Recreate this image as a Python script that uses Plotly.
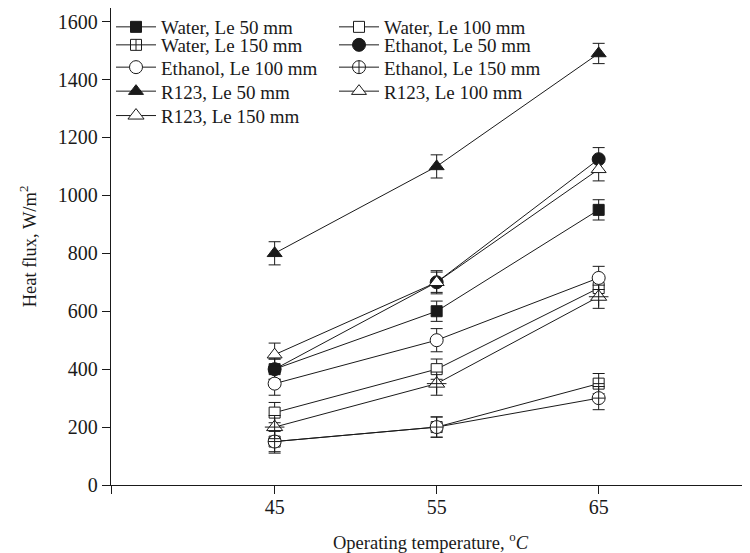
import plotly.graph_objects as go

temps = [45, 55, 65]

names = ["Water, Le 50 mm", "Water, Le 100 mm", "Water, Le 150 mm", "Ethanot, Le 50 mm",
         "Ethanol, Le 100 mm", "Ethanol, Le 150 mm", "R123, Le 50 mm", "R123, Le 100 mm",
         "R123, Le 150 mm"]

water_50 = [400, 600, 950]
water_100 = [250, 400, 680]
water_150 = [150, 200, 350]
ethanol_50 = [400, 700, 1125]
ethanol_100 = [350, 500, 715]
ethanol_150 = [150, 200, 300]
r123_50 = [800, 1100, 1490]
r123_100 = [450, 700, 1090]
r123_150 = [200, 350, 650]

err_water_50 = [35, 35, 35]
err_water_100 = [35, 35, 35]
err_water_150 = [35, 35, 35]
err_ethanol_50 = [35, 35, 40]
err_ethanol_100 = [40, 40, 40]
err_ethanol_150 = [40, 35, 40]
err_r123_50 = [40, 40, 35]
err_r123_100 = [40, 40, 40]
err_r123_150 = [40, 40, 40]

series = [water_50, water_100, water_150, ethanol_50, ethanol_100, ethanol_150,
          r123_50, r123_100, r123_150]
errors = [err_water_50, err_water_100, err_water_150, err_ethanol_50, err_ethanol_100,
          err_ethanol_150, err_r123_50, err_r123_100, err_r123_150]
symbols = ["square", "square", "square-cross", "circle", "circle",
           "circle-cross", "triangle-up", "triangle-up", "triangle-up"]
filled = [True, False, False, True, False, False, True, False, False]
sizes = [11, 11, 11, 13, 13, 13, 13, 13, 14]
legend_rows = ["legend", "legend", "legend2", "legend2", "legend3", "legend3",
               "legend4", "legend4", "legend5"]

ink = "#1a1a1a"
fig = go.Figure()
for name, vals, err, sym, fl, sz, lg in zip(names, series, errors, symbols, filled, sizes,
                                            legend_rows):
    fig.add_trace(go.Scatter(
        x=temps, y=vals, name=name, mode="lines+markers", legend=lg,
        line=dict(color=ink, width=1),
        marker=dict(symbol=sym, size=sz, color=ink if fl else "white",
                    line=dict(color=ink, width=1)),
        error_y=dict(type="data", array=err, visible=True, color=ink, thickness=1, width=6),
    ))

# cross inside the R123 Le 150 mm triangles
fig.add_trace(go.Scatter(
    x=temps, y=r123_150, mode="markers", showlegend=False, hoverinfo="skip",
    marker=dict(symbol="cross-thin-open", size=14, color=ink, line=dict(color=ink, width=1)),
))

font = "Liberation Serif, Times New Roman, serif"
plot_h = 477
row_tops_px = [0, 18, 40.3, 64.3, 88.7]

def legend_style(top_px):
    return dict(orientation="h", x=0, y=1 - top_px / plot_h, xanchor="left", yanchor="top",
                bgcolor="rgba(0,0,0,0)", font=dict(size=19, family=font),
                entrywidth=168, itemwidth=40, tracegroupgap=0)

fig.update_layout(
    width=742, height=545,
    margin=dict(l=103, r=0, t=0, b=68),
    plot_bgcolor="white", paper_bgcolor="white",
    font=dict(family=font, size=20, color=ink),
    showlegend=True,
    legend=legend_style(row_tops_px[0]),
    legend2=legend_style(row_tops_px[1]),
    legend3=legend_style(row_tops_px[2]),
    legend4=legend_style(row_tops_px[3]),
    legend5=legend_style(row_tops_px[4]),
    xaxis=dict(range=[34.9, 74.34], tickvals=[34.9, 45, 55, 65], ticktext=["", "45", "55", "65"],
               showgrid=False, zeroline=False, showline=True, linecolor=ink, linewidth=1.3,
               mirror=True, ticks="outside", ticklen=8, tickcolor=ink, tickwidth=1.3,
               ticklabelstandoff=-4,
               title=dict(text="Operating temperature, <sup>o</sup><i>C</i>", standoff=18,
                          font=dict(size=18.5))),
    yaxis=dict(range=[0, 1647], tickvals=[0, 200, 400, 600, 800, 1000, 1200, 1400, 1600],
               showgrid=False, zeroline=False, showline=True, linecolor=ink, linewidth=1.3,
               ticks="outside", ticklen=8, tickcolor=ink, tickwidth=1.3,
               title=dict(text="Heat flux, W/m<sup>2</sup>", standoff=16,
                          font=dict(size=18.5))),
)

fig.write_html("out.html")
